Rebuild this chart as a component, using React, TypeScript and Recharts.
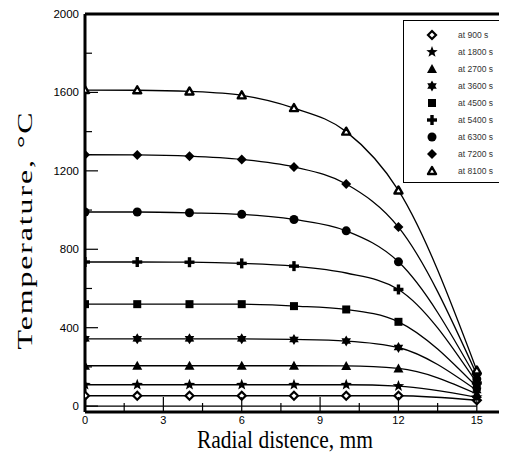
import { LineChart, Line, XAxis, YAxis, ReferenceLine } from "recharts";

// radial positions (mm) where temperatures were sampled
const radialMm = [0, 2, 4, 6, 8, 10, 12, 15];

// temperature (°C) profiles at each time
const t900 = [53, 53, 53, 53, 53, 53, 53, 30];
const t1800 = [109, 109, 109, 109, 109, 109, 102, 45];
const t2700 = [206, 206, 206, 206, 206, 205, 192, 62];
const t3600 = [343, 343, 343, 343, 340, 332, 299, 80];
const t4500 = [520, 520, 520, 520, 510, 493, 430, 98];
const t5400 = [735, 735, 734, 728, 714, 679, 595, 118];
const t6300 = [990, 990, 986, 978, 952, 894, 736, 138];
const t7200 = [1282, 1281, 1275, 1258, 1220, 1133, 913, 160];
const t8100 = [1612, 1611, 1605, 1585, 1520, 1400, 1100, 182];

const timeLabels = [
  "at 900 s",
  "at 1800 s",
  "at 2700 s",
  "at 3600 s",
  "at 4500 s",
  "at 5400 s",
  "at 6300 s",
  "at 7200 s",
  "at 8100 s",
];

const xTicks = [0, 1.5, 3, 4.5, 6, 7.5, 9, 10.5, 12, 13.5, 15];
const yTicks = [0, 200, 400, 600, 800, 1000, 1200, 1400, 1600, 1800, 2000];

type Shape =
  | "openDiamond"
  | "star5"
  | "triangle"
  | "star6"
  | "square"
  | "plus"
  | "circle"
  | "diamond"
  | "openTriangle";

const series: { key: string; label: string; values: number[]; shape: Shape; noMark?: number[] }[] = [
  { key: "s900", label: timeLabels[0], values: t900, shape: "openDiamond" },
  { key: "s1800", label: timeLabels[1], values: t1800, shape: "star5" },
  { key: "s2700", label: timeLabels[2], values: t2700, shape: "triangle" },
  { key: "s3600", label: timeLabels[3], values: t3600, shape: "star6" },
  { key: "s4500", label: timeLabels[4], values: t4500, shape: "square" },
  { key: "s5400", label: timeLabels[5], values: t5400, shape: "plus", noMark: [10] },
  { key: "s6300", label: timeLabels[6], values: t6300, shape: "circle" },
  { key: "s7200", label: timeLabels[7], values: t7200, shape: "diamond" },
  { key: "s8100", label: timeLabels[8], values: t8100, shape: "openTriangle" },
];

const rows = radialMm.map((x, i) => {
  const r: Record<string, number> = { x };
  series.forEach((s) => (r[s.key] = s.values[i]));
  return r;
});

const sans = "'Liberation Sans', Arial, sans-serif";
const serif = "'Liberation Serif', 'Times New Roman', serif";

const starPts = (cx: number, cy: number, n: number, ro: number, ri: number) => {
  const pts: string[] = [];
  for (let k = 0; k < n * 2; k++) {
    const r = k % 2 === 0 ? ro : ri;
    const a = -Math.PI / 2 + (k * Math.PI) / n;
    pts.push(`${cx + r * Math.cos(a)},${cy + r * Math.sin(a)}`);
  }
  return pts.join(" ");
};

function Marker({ shape, cx, cy }: { shape: Shape; cx: number; cy: number }) {
  switch (shape) {
    case "openDiamond":
      return (
        <polygon
          points={`${cx},${cy - 4} ${cx + 4},${cy} ${cx},${cy + 4} ${cx - 4},${cy}`}
          fill="#fff"
          stroke="#000"
          strokeWidth={2.2}
        />
      );
    case "star5":
      return <polygon points={starPts(cx, cy, 5, 6, 2.5)} fill="#000" />;
    case "triangle":
      return <polygon points={`${cx},${cy - 5} ${cx + 5},${cy + 4} ${cx - 5},${cy + 4}`} fill="#000" />;
    case "star6":
      return <polygon points={starPts(cx, cy, 6, 5.5, 3.2)} fill="#000" />;
    case "square":
      return <rect x={cx - 4} y={cy - 4} width={8} height={8} fill="#000" />;
    case "plus":
      return (
        <g fill="#000">
          <rect x={cx - 5} y={cy - 1.7} width={10} height={3.4} />
          <rect x={cx - 1.7} y={cy - 5} width={3.4} height={10} />
        </g>
      );
    case "circle":
      return <circle cx={cx} cy={cy} r={4.5} fill="#000" />;
    case "diamond":
      return <polygon points={`${cx},${cy - 5} ${cx + 5},${cy} ${cx},${cy + 5} ${cx - 5},${cy}`} fill="#000" />;
    case "openTriangle":
      return (
        <polygon
          points={`${cx},${cy - 4} ${cx + 4},${cy + 3} ${cx - 4},${cy + 3}`}
          fill="#fff"
          stroke="#000"
          strokeWidth={2.4}
          strokeLinejoin="round"
        />
      );
  }
}

const XTick = (props: any) => {
  const { x, y, payload } = props;
  const v = payload.value as number;
  const major = v % 3 === 0;
  return (
    <g>
      <line x1={x} x2={x} y1={y} y2={y - (major ? 15 : 9)} stroke="#000" strokeWidth={1.2} />
      {major && (
        <text x={x} y={y + 12} textAnchor="middle" fontSize={11} fontFamily={sans} fill="#000">
          {v}
        </text>
      )}
    </g>
  );
};

const YTick = (props: any) => {
  const { x, y, payload } = props;
  const v = payload.value as number;
  const major = v % 400 === 0;
  return (
    <g>
      <line x1={x} x2={x + (major ? 13 : 7)} y1={y} y2={y} stroke="#000" strokeWidth={1.2} />
      {major && (
        <text x={x - 6} y={y + 4} textAnchor="end" fontSize={11.5} fontFamily={sans} fill="#000">
          {v}
        </text>
      )}
    </g>
  );
};

export default function App() {
  return (
    <div style={{ position: "relative", width: 499, height: 447, overflow: "hidden", background: "#fff" }}>
      <LineChart width={530} height={447} data={rows} margin={{ top: 6, right: 22, bottom: 13, left: 17 }}>
        <XAxis
          dataKey="x"
          type="number"
          domain={[0, 16.5]}
          ticks={xTicks}
          interval={0}
          tickSize={0}
          tickMargin={0}
          tickLine={false}
          tick={<XTick />}
          axisLine={{ stroke: "#000", strokeWidth: 3 }}
          height={30}
          allowDataOverflow
        />
        <YAxis
          type="number"
          domain={[-30, 2000]}
          ticks={yTicks}
          interval={0}
          tickSize={0}
          tickMargin={0}
          tickLine={false}
          tick={<YTick />}
          axisLine={{ stroke: "#000", strokeWidth: 3 }}
          width={60}
          allowDataOverflow
        />
        <ReferenceLine y={2000} stroke="#000" strokeWidth={3} />
        <ReferenceLine
          segment={[
            { x: 0, y: 0 },
            { x: 15, y: 0 },
          ]}
          stroke="#000"
          strokeWidth={1.2}
        />
        {series.map((s) => (
          <Line
            key={s.key}
            dataKey={s.key}
            type="monotone"
            stroke="#000"
            strokeWidth={1.3}
            isAnimationActive={false}
            activeDot={false}
            dot={(p: any) => {
              const k = `${s.key}-${p.index}`;
              if (s.noMark && s.noMark.includes(p.payload.x)) return <g key={k} />;
              return (
                <g key={k}>
                  <Marker shape={s.shape} cx={p.cx} cy={p.cy} />
                </g>
              );
            }}
          />
        ))}
      </LineChart>

      <svg
        width={499}
        height={447}
        style={{ position: "absolute", left: 0, top: 0, pointerEvents: "none" }}
      >
        <text
          x={277}
          y={440}
          textAnchor="middle"
          fontSize={26}
          fontFamily={serif}
          textLength={176}
          lengthAdjust="spacingAndGlyphs"
          fill="#000"
        >
          Radial distence, mm
        </text>
        <g transform="translate(24 222) rotate(-90) scale(1.45 1)">
          <text x={0} y={0} textAnchor="middle" fontSize={22} fontFamily={serif} letterSpacing={1.3} fill="#000">
            Temperature, °C
          </text>
        </g>
      </svg>

      <div
        style={{
          position: "absolute",
          left: 395,
          top: 12,
          width: 140,
          height: 163,
          boxSizing: "border-box",
          border: "1.5px solid #000",
          background: "#fff",
        }}
      >
        {series.map((s, i) => (
          <div key={s.key} style={{ position: "absolute", left: 0, top: 14 + 17 * i - 7, height: 14, width: 140 }}>
            <svg width={16} height={14} style={{ position: "absolute", left: 20, top: 0 }}>
              <Marker shape={s.shape} cx={8} cy={7} />
            </svg>
            <span
              style={{
                position: "absolute",
                left: 54,
                top: 0,
                lineHeight: "14px",
                fontSize: 8.5,
                fontFamily: sans,
                color: "#333",
                whiteSpace: "nowrap",
              }}
            >
              {s.label}
            </span>
          </div>
        ))}
      </div>
    </div>
  );
}
